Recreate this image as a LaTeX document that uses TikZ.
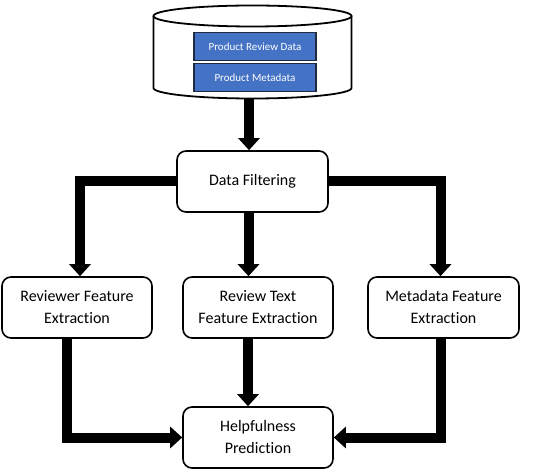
\documentclass[tikz,border=0pt]{standalone}
\usepackage{fontspec}
\setmainfont{Carlito}[Ligatures={NoCommon,NoRare}]
\usepackage{xcolor}
\usepackage{tikz}
\usetikzlibrary{arrows.meta,positioning,calc}
\definecolor{dbblue}{HTML}{4472C4}
\definecolor{dbedge}{HTML}{1F2A40}
\definecolor{ink}{HTML}{000000}

\begin{document}
\begin{tikzpicture}[
    x=1pt, y=-1pt,
    font=\rmfamily\fontsize{16}{22}\selectfont,
    line join=miter,
    stagebox/.style={draw=ink, fill=white, rounded corners=9pt, line width=1.6pt, minimum width=150pt, minimum height=61pt, align=center, inner sep=2pt, text=ink},
    tablebox/.style={draw=dbedge, fill=dbblue, line width=1.5pt, minimum width=122pt, minimum height=28pt, inner sep=1pt, text=white, font=\rmfamily\fontsize{11}{13}\selectfont},
    flow/.style={-{Triangle[length=12pt,width=21pt]}, line width=10pt, draw=ink},
    dbline/.style={draw=ink, line width=1.8pt}
]
\useasboundingbox (0,0) rectangle (533,470);

% Database cylinder
\fill[white] (153.5,16) -- (153.5,88) arc[start angle=180, end angle=360, x radius=99pt, y radius=10.5pt] -- (351.5,16) -- cycle;
\draw[dbline] (153.5,16) -- (153.5,88) arc[start angle=180, end angle=360, x radius=99pt, y radius=10.5pt] -- (351.5,16);
\draw[dbline, fill=white] (252.5,16) ellipse [x radius=99pt, y radius=10.5pt];
\coordinate (dbout) at (249,98);

% Tables
\node[tablebox] (revdata) at (255,46.5) {Product Review Data};
\node[tablebox] (metadata) at (255,77.5) {Product Metadata};

% Stages
\node[stagebox, minimum width=151pt] (filter) at (252.5,181.5) {Data Filtering};
\node[stagebox] (reviewer) at (77,307.5) {Reviewer Feature\\Extraction};
\node[stagebox] (revtext) at (258,307.5) {Review Text\\Feature Extraction};
\node[stagebox, minimum width=151pt] (metafeat) at (443.5,307.5) {Metadata Feature\\Extraction};
\node[stagebox] (predict) at (258,437.5) {Helpfulness\\Prediction};

% Flow arrows
\draw[flow] (dbout) -- (dbout |- filter.north);
\draw[flow] (filter.west) -| ([xshift=3pt]reviewer.north);
\draw[flow] ([xshift=-4pt]filter.south) -- ([xshift=-4pt]filter.south |- revtext.north);
\draw[flow] (filter.east) -| ([xshift=-3pt]metafeat.north);

\draw[flow] ([xshift=-10pt]reviewer.south) |- (predict.west);
\draw[flow] ([xshift=-10pt]revtext.south) -- ([xshift=-10pt]predict.north);
\draw[flow] ([xshift=-3pt]metafeat.south) |- (predict.east);

\end{tikzpicture}
\end{document}
